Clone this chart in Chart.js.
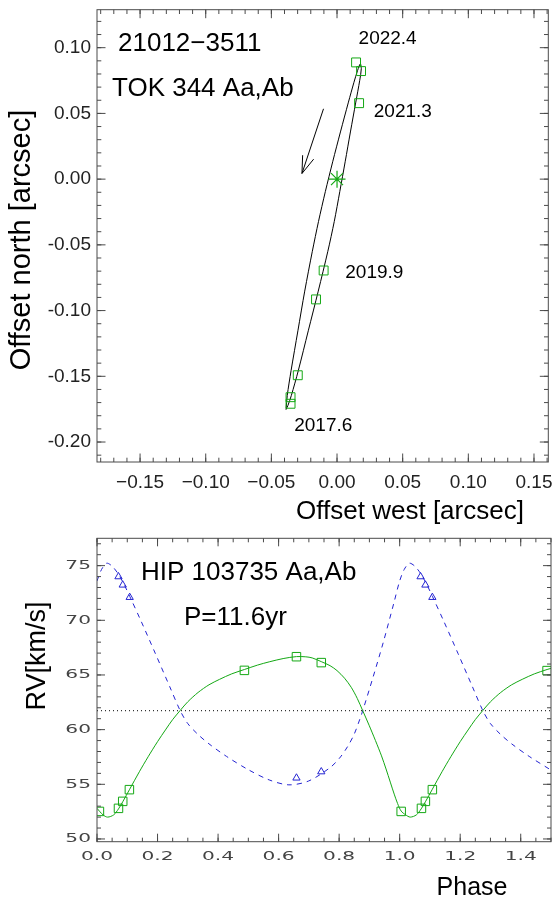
<!DOCTYPE html>
<html>
<head>
<meta charset="utf-8">
<script src="https://cdn.jsdelivr.net/npm/chart.js@4"></script>
<style>
  html, body { margin: 0; padding: 0; background: #fff; }
  #wrap { position: relative; width: 558px; height: 900px; overflow: hidden; }
  canvas { position: absolute; left: 0; }
  #orbit { top: 0; }
  #rv { top: 525px; }
</style>
</head>
<body>
<div id="wrap">
  <canvas id="orbit" width="558" height="525"></canvas>
  <canvas id="rv" width="558" height="375"></canvas>
</div>
<script>
// ---------- Orbit panel (arcsec) ----------
const obsWest  = [0.0145, 0.0183, 0.0168, -0.0102, -0.0160, -0.0299, -0.0354, -0.0354];
const obsNorth = [0.0888, 0.0822, 0.0578, -0.0695, -0.0915, -0.1492, -0.1659, -0.1709];

// apparent orbit, traced once around (up the eastern side, down the western side)
const orbitWest  = [-0.0388, -0.0379, -0.0350, -0.0298, -0.0246, -0.0188, -0.0141, -0.0089, -0.0033, 0.0026,
                    0.0087, 0.0129, 0.0157, 0.0177, 0.0185, 0.0173, 0.0143, 0.0102, 0.0062, 0.0021,
                    -0.0021, -0.0070, -0.0143, -0.0219, -0.0295, -0.0348, -0.0374, -0.0388];
const orbitNorth = [-0.1752, -0.1646, -0.1457, -0.1154, -0.0852, -0.0549, -0.0322, -0.0095, 0.0132, 0.0359,
                    0.0586, 0.0737, 0.0828, 0.0877, 0.0843, 0.0752, 0.0586, 0.0359, 0.0132, -0.0095,
                    -0.0322, -0.0549, -0.0852, -0.1154, -0.1457, -0.1646, -0.1722, -0.1752];

const primaryWest = [0];
const primaryNorth = [0];

// direction of motion
const arrowWest  = [-0.0103, -0.0267];
const arrowNorth = [0.0535, 0.0043];
const headWest   = [-0.0262, -0.0267, -0.0178];
const headNorth  = [0.0182, 0.0043, 0.0152];

const epochText  = ['2022.4', '2021.3', '2019.9', '2017.6'];
const epochWest  = [0.0164, 0.0280, 0.0063, -0.0326];
const epochNorth = [0.1070, 0.0510, -0.0713, -0.1880];

const westTicks   = [-0.15, -0.10, -0.05, 0.00, 0.05, 0.10, 0.15];
const westLabels  = ['\u22120.15', '\u22120.10', '\u22120.05', '0.00', '0.05', '0.10', '0.15'];
const northTicks  = [0.10, 0.05, 0.00, -0.05, -0.10, -0.15, -0.20];
const northLabels = ['0.10', '0.05', '0.00', '-0.05', '-0.10', '-0.15', '-0.20'];

// ---------- Radial velocity panel (km/s) ----------
const phaseAa = [0.008, 0.071, 0.085, 0.107, 0.487, 0.659, 0.741, 1.005, 1.072, 1.085, 1.108, 1.487];
const rvAa    = [52.52, 52.80, 53.44, 54.51, 65.42, 66.67, 66.13, 52.52, 52.80, 53.44, 54.51, 65.40];
const phaseAb = [0.071, 0.085, 0.108, 0.659, 0.741, 1.069, 1.085, 1.108];
const rvAb    = [73.99, 73.23, 72.10, 55.58, 56.15, 73.99, 73.23, 72.10];

const curvePhaseAa = [0.000, 0.020, 0.035, 0.055, 0.071, 0.085, 0.107, 0.140, 0.169, 0.200, 0.228, 0.250, 0.275,
                      0.300, 0.334, 0.370, 0.405, 0.445, 0.487, 0.530, 0.569, 0.615, 0.659, 0.690, 0.711,
                      0.741, 0.770, 0.793, 0.818, 0.840, 0.860, 0.878, 0.899, 0.920, 0.940, 0.955, 0.969,
                      0.982, 0.993, 1.005, 1.020, 1.035, 1.055, 1.071, 1.085, 1.107, 1.140, 1.169, 1.200,
                      1.228, 1.250, 1.275, 1.300, 1.334, 1.370, 1.405, 1.445, 1.487, 1.500];
const curveRvAa    = [52.80, 52.20, 52.00, 52.20, 52.75, 53.40, 54.50, 56.15, 57.52, 58.90, 60.05, 60.92, 61.76,
                      62.55, 63.40, 64.10, 64.60, 65.10, 65.50, 65.90, 66.20, 66.50, 66.68, 66.66, 66.56,
                      66.22, 65.85, 65.40, 64.70, 63.87, 62.85, 61.73, 60.40, 59.00, 57.60, 56.40, 55.20,
                      54.10, 53.25, 52.55, 52.20, 52.00, 52.20, 52.75, 53.40, 54.50, 56.15, 57.52, 58.90,
                      60.05, 60.92, 61.76, 62.55, 63.40, 64.10, 64.60, 65.10, 65.50, 65.60];

const curvePhaseAb = [0.000, 0.015, 0.032, 0.050, 0.070, 0.090, 0.108, 0.146, 0.193, 0.240, 0.275, 0.300, 0.334,
                      0.370, 0.428, 0.499, 0.569, 0.634, 0.699, 0.769, 0.800, 0.828, 0.850, 0.869, 0.878,
                      0.911, 0.946, 0.981, 1.000, 1.015, 1.032, 1.050, 1.070, 1.090, 1.108, 1.146, 1.193,
                      1.240, 1.275, 1.300, 1.334, 1.370, 1.428, 1.500];
const curveRvAb    = [73.60, 74.65, 75.22, 74.95, 74.25, 73.25, 72.20, 69.90, 66.95, 63.95, 61.73, 60.55, 59.55,
                      58.70, 57.55, 56.35, 55.40, 54.95, 55.30, 56.50, 57.35, 58.45, 59.60, 61.00, 61.73,
                      64.70, 68.00, 71.60, 73.60, 74.65, 75.22, 74.95, 74.25, 73.25, 72.20, 69.90, 66.95,
                      63.95, 61.73, 60.55, 59.55, 58.70, 57.55, 56.30];

const systemicRv = 61.73;
const phaseSpan  = [0.0, 1.5];

const phaseTicks  = [0.0, 0.2, 0.4, 0.6, 0.8, 1.0, 1.2, 1.4];
const phaseLabels = ['0.0', '0.2', '0.4', '0.6', '0.8', '1.0', '1.2', '1.4'];
const rvTicks     = [50, 55, 60, 65, 70, 75];
const rvLabels    = ['50', '55', '60', '65', '70', '75'];

// ---------- helpers ----------
const GREEN = '#14a814';
const BLUE  = '#2424d2';
const pts = (xs, ys) => xs.map((x, i) => ({ x, y: ys[i] }));

// Box frame with inward ticks on all four sides plus tick labels
function boxFrame(cfg) {
  return {
    id: 'boxFrame',
    afterDatasetsDraw(chart) {
      const { ctx, chartArea: a } = chart;
      const xs = chart.scales.x, ys = chart.scales.y;
      ctx.save();
      ctx.strokeStyle = cfg.color;
      ctx.lineWidth = 1;
      ctx.strokeRect(a.left, a.top, a.right - a.left, a.bottom - a.top);
      ctx.beginPath();
      const each = (scale, step, fn) => {
        const n0 = Math.ceil(scale.min / step - 1e-6), n1 = Math.floor(scale.max / step + 1e-6);
        for (let n = n0; n <= n1; n++) fn(scale.getPixelForValue(n * step));
      };
      const xT = (p, len) => { ctx.moveTo(p, a.bottom); ctx.lineTo(p, a.bottom - len); ctx.moveTo(p, a.top); ctx.lineTo(p, a.top + len); };
      const yT = (p, len) => { ctx.moveTo(a.left, p); ctx.lineTo(a.left + len, p); ctx.moveTo(a.right, p); ctx.lineTo(a.right - len, p); };
      each(xs, cfg.xMinor, p => xT(p, cfg.minorLen));
      each(ys, cfg.yMinor, p => yT(p, cfg.minorLen));
      cfg.xTicks.forEach(v => xT(xs.getPixelForValue(v), cfg.majorLen));
      cfg.yTicks.forEach(v => yT(ys.getPixelForValue(v), cfg.majorLen));
      ctx.stroke();

      ctx.fillStyle = cfg.labelColor;
      ctx.font = cfg.labelFont;
      ctx.textBaseline = 'middle';
      const put = (t, px, py, align) => {
        ctx.save();
        ctx.translate(px, py);
        ctx.scale(cfg.stretch, 1);
        ctx.textAlign = align;
        ctx.fillText(t, 0, 0);
        ctx.restore();
      };
      cfg.xTicks.forEach((v, i) => put(cfg.xLabels[i], xs.getPixelForValue(v), a.bottom + cfg.xGap, 'center'));
      cfg.yTicks.forEach((v, i) => put(cfg.yLabels[i], a.left - cfg.yGap, ys.getPixelForValue(v), 'right'));
      ctx.restore();
    }
  };
}

// Free text: titles placed on the canvas, notes placed in data units
function texts(cfg) {
  return {
    id: 'texts',
    afterDraw(chart) {
      const { ctx } = chart;
      ctx.save();
      ctx.fillStyle = '#000';
      ctx.textBaseline = 'middle';
      (cfg.fixed || []).forEach(t => {
        ctx.save();
        ctx.font = t.font;
        ctx.textAlign = t.align || 'left';
        ctx.translate(t.x, t.y);
        if (t.rot) ctx.rotate(t.rot);
        ctx.fillText(t.text, 0, 0);
        ctx.restore();
      });
      if (cfg.data) {
        const d = cfg.data;
        ctx.font = d.font;
        ctx.textAlign = 'left';
        d.text.forEach((s, i) => {
          ctx.fillText(s, chart.scales.x.getPixelForValue(d.x[i]), chart.scales.y.getPixelForValue(d.y[i]));
        });
      }
      ctx.restore();
    }
  };
}

const common = {
  responsive: false,
  animation: false,
  events: [],
  plugins: { legend: { display: false }, tooltip: { enabled: false } },
};

// ---------- orbit chart ----------
new Chart(document.getElementById('orbit'), {
  type: 'scatter',
  data: {
    datasets: [
      { data: pts(obsWest, obsNorth), pointStyle: 'rect', pointRadius: 6.3, borderColor: GREEN,
        backgroundColor: 'rgba(0,0,0,0)', pointBorderWidth: 1, showLine: false },
      { data: pts(primaryWest, primaryNorth), pointStyle: 'star', pointRadius: 8.5, borderColor: GREEN,
        pointBorderWidth: 1.2, showLine: false },
      { data: pts(orbitWest, orbitNorth), showLine: true, borderColor: '#000', borderWidth: 1,
        pointRadius: 0, tension: 0.3 },
      { data: pts(arrowWest, arrowNorth), showLine: true, borderColor: '#000', borderWidth: 1, pointRadius: 0 },
      { data: pts(headWest, headNorth), showLine: true, borderColor: '#000', borderWidth: 1, pointRadius: 0 },
    ]
  },
  options: {
    ...common,
    layout: { padding: { left: 97, right: 7, top: 7, bottom: 63 } },
    scales: {
      x: { type: 'linear', display: false, min: -0.1828, max: 0.1609 },
      y: { type: 'linear', display: false, min: -0.2152, max: 0.1289 },
    }
  },
  plugins: [
    boxFrame({
      color: '#4a4a4a', majorLen: 8.5, minorLen: 4.3, xMinor: 0.01, yMinor: 0.01,
      xTicks: westTicks, xLabels: westLabels, yTicks: northTicks, yLabels: northLabels,
      labelFont: "19px 'Liberation Sans', Arial, sans-serif", labelColor: '#222', stretch: 1,
      xGap: 21, yGap: 6
    }),
    texts({
      fixed: [
        { text: '21012\u22123511', x: 118, y: 44, font: "26px 'Liberation Sans', Arial, sans-serif" },
        { text: 'TOK 344 Aa,Ab', x: 112, y: 89, font: "26px 'Liberation Sans', Arial, sans-serif" },
        { text: 'Offset west [arcsec]', x: 410, y: 512, align: 'center', font: "26px 'Liberation Sans', Arial, sans-serif" },
        { text: 'Offset north [arcsec]', x: 22, y: 240, align: 'center', rot: -Math.PI / 2, font: "29px 'Liberation Sans', Arial, sans-serif" },
      ],
      data: { text: epochText, x: epochWest, y: epochNorth, font: "19px 'Liberation Sans', Arial, sans-serif" }
    })
  ]
});

// ---------- radial velocity chart ----------
new Chart(document.getElementById('rv'), {
  type: 'scatter',
  data: {
    datasets: [
      { data: pts(phaseAa, rvAa), pointStyle: 'rect', pointRadius: 6, borderColor: GREEN,
        backgroundColor: 'rgba(0,0,0,0)', pointBorderWidth: 1, showLine: false },
      { data: pts(phaseAb, rvAb), pointStyle: 'triangle', pointRadius: 4.2, borderColor: BLUE,
        backgroundColor: 'rgba(0,0,0,0)', pointBorderWidth: 1, showLine: false },
      { data: pts(curvePhaseAa, curveRvAa), showLine: true, borderColor: GREEN, borderWidth: 1,
        pointRadius: 0, tension: 0.3 },
      { data: pts(curvePhaseAb, curveRvAb), showLine: true, borderColor: BLUE, borderWidth: 1,
        borderDash: [5, 5], pointRadius: 0, tension: 0.3 },
      { data: pts(phaseSpan, [systemicRv, systemicRv]), showLine: true, borderColor: '#000', borderWidth: 1,
        borderDash: [1, 3], pointRadius: 0 },
    ]
  },
  options: {
    ...common,
    layout: { padding: { left: 97, right: 7, top: 13.3, bottom: 58.3 } },
    scales: {
      x: { type: 'linear', display: false, min: 0, max: 1.5 },
      y: { type: 'linear', display: false, min: 49.75, max: 77.5 },
    }
  },
  plugins: [
    boxFrame({
      color: '#4a4a4a', majorLen: 8, minorLen: 4, xMinor: 0.05, yMinor: 1,
      xTicks: phaseTicks, xLabels: phaseLabels, yTicks: rvTicks, yLabels: rvLabels,
      labelFont: "13px 'DejaVu Sans', sans-serif", labelColor: '#444', stretch: 1.55,
      xGap: 15, yGap: 6
    }),
    texts({
      fixed: [
        { text: 'HIP 103735 Aa,Ab', x: 141, y: 48, font: "26px 'Liberation Sans', Arial, sans-serif" },
        { text: 'P=11.6yr', x: 184, y: 93, font: "26px 'Liberation Sans', Arial, sans-serif" },
        { text: 'Phase', x: 472, y: 363, align: 'center', font: "25px 'Liberation Sans', Arial, sans-serif" },
        { text: 'RV[km/s]', x: 38, y: 131, align: 'center', rot: -Math.PI / 2, font: "27px 'Liberation Sans', Arial, sans-serif" },
      ]
    })
  ]
});
</script>
</body>
</html>
